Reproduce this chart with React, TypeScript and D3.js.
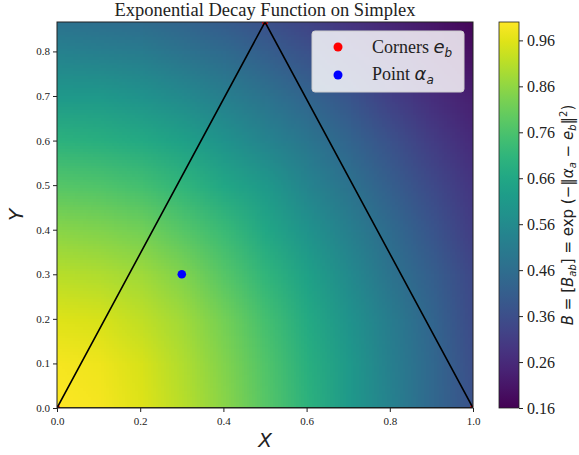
import React, { useEffect, useMemo, useRef } from "react";
import * as d3 from "d3";

// grid of B values (rows: y, cols: x)
const xGrid = [0, 0.1, 0.2, 0.3, 0.4, 0.5, 0.6, 0.7, 0.8, 0.9, 1.0];
const yGrid = [0, 0.1, 0.2, 0.3, 0.4, 0.5, 0.6, 0.7, 0.8, 0.9];
const bValues = [
  [1.0, 0.99, 0.96, 0.91, 0.85, 0.78, 0.7, 0.61, 0.53, 0.44, 0.37],
  [0.99, 0.98, 0.95, 0.9, 0.84, 0.77, 0.69, 0.61, 0.52, 0.44, 0.36],
  [0.96, 0.95, 0.92, 0.88, 0.82, 0.75, 0.67, 0.59, 0.51, 0.43, 0.35],
  [0.91, 0.9, 0.88, 0.84, 0.78, 0.71, 0.64, 0.56, 0.48, 0.41, 0.34],
  [0.85, 0.84, 0.82, 0.78, 0.73, 0.66, 0.59, 0.52, 0.45, 0.38, 0.31],
  [0.78, 0.77, 0.75, 0.71, 0.66, 0.61, 0.54, 0.48, 0.41, 0.35, 0.29],
  [0.7, 0.69, 0.67, 0.64, 0.59, 0.54, 0.49, 0.43, 0.37, 0.31, 0.26],
  [0.61, 0.61, 0.59, 0.56, 0.52, 0.48, 0.43, 0.38, 0.32, 0.27, 0.23],
  [0.53, 0.52, 0.51, 0.48, 0.45, 0.41, 0.37, 0.32, 0.28, 0.23, 0.19],
  [0.45, 0.44, 0.43, 0.41, 0.38, 0.35, 0.31, 0.27, 0.23, 0.2, 0.16],
];
const corners = [
  [0, 0],
  [1, 0],
  [0.5, 0.866],
];
const point = [0.3, 0.3];
const xTicks = [0, 0.2, 0.4, 0.6, 0.8, 1.0];
const yTicks = [0, 0.1, 0.2, 0.3, 0.4, 0.5, 0.6, 0.7, 0.8];
const cbTicks = [0.16, 0.26, 0.36, 0.46, 0.56, 0.66, 0.76, 0.86, 0.96];
const bRange = [0.16, 1.0];

const width = 579;
const height = 455;
const plot = { left: 57, right: 473, top: 22, bottom: 408 };
const cbar = { left: 499, right: 519 };
const serif = "'Liberation Serif', 'Times New Roman', serif";
const sans = "'DejaVu Sans', sans-serif";

export default function App() {
  const xAxisRef = useRef<SVGGElement>(null);
  const yAxisRef = useRef<SVGGElement>(null);
  const cbAxisRef = useRef<SVGGElement>(null);

  const x = d3.scaleLinear().domain([0, 1]).range([plot.left, plot.right]);
  const y = d3.scaleLinear().domain([0, 0.866]).range([plot.bottom, plot.top]);
  const cb = d3.scaleLinear().domain(bRange).range([plot.bottom, plot.top]);
  const color = d3.scaleSequential(d3.interpolateViridis).domain(bRange);

  const href = useMemo(() => {
    const cols = xGrid.length;
    const rows = yGrid.length;
    const canvas = document.createElement("canvas");
    canvas.width = cols;
    canvas.height = rows;
    const ctx = canvas.getContext("2d");
    if (!ctx) return "";
    const img = ctx.createImageData(cols, rows);
    for (let r = 0; r < rows; r++) {
      for (let c = 0; c < cols; c++) {
        const col = d3.rgb(color(bValues[r][c]));
        const i = ((rows - 1 - r) * cols + c) * 4;
        img.data[i] = col.r;
        img.data[i + 1] = col.g;
        img.data[i + 2] = col.b;
        img.data[i + 3] = 255;
      }
    }
    ctx.putImageData(img, 0, 0);
    return canvas.toDataURL();
  }, []);

  useEffect(() => {
    document.body.style.margin = "0";
    const xa = d3.select(xAxisRef.current);
    xa.call(
      d3.axisBottom(x).tickValues(xTicks).tickFormat(d3.format(".1f")).tickSize(4).tickPadding(5)
    );
    const ya = d3.select(yAxisRef.current);
    ya.call(
      d3.axisLeft(y).tickValues(yTicks).tickFormat(d3.format(".1f")).tickSize(4).tickPadding(3)
    );
    const ca = d3.select(cbAxisRef.current);
    ca.call(
      d3.axisRight(cb).tickValues(cbTicks).tickFormat(d3.format(".2f")).tickSize(4).tickPadding(4)
    );
    [xa, ya].forEach((a) => {
      a.select(".domain").remove();
      a.selectAll("text").style("font-family", serif).style("font-size", "11px").attr("fill", "#222");
      a.selectAll("line").attr("stroke", "#222");
    });
    ca.select(".domain").remove();
    ca.selectAll("text").style("font-family", serif).style("font-size", "16px").attr("fill", "#222");
    ca.selectAll("line").attr("stroke", "#222");
  }, []);

  const stops = d3.range(0, 1.0001, 0.05);

  return (
    <svg width={width} height={height} style={{ display: "block", background: "#fff" }}>
      <defs>
        <clipPath id="plotClip">
          <rect x={plot.left} y={plot.top} width={plot.right - plot.left} height={plot.bottom - plot.top} />
        </clipPath>
        <linearGradient id="viridisBar" x1="0" y1="1" x2="0" y2="0">
          {stops.map((t) => (
            <stop key={t} offset={t} stopColor={d3.interpolateViridis(t)} />
          ))}
        </linearGradient>
      </defs>

      <text x={(plot.left + plot.right) / 2} y={16} textAnchor="middle" fontFamily={serif} fontSize={18.5} fill="#222">
        Exponential Decay Function on Simplex
      </text>

      <g clipPath="url(#plotClip)">
        <image
          href={href}
          x={x(-0.05)}
          y={y(0.95)}
          width={x(1.05) - x(-0.05)}
          height={y(-0.05) - y(0.95)}
          preserveAspectRatio="none"
        />
        {corners.map((d, i) => (
          <circle key={i} cx={x(d[0])} cy={y(d[1])} r={3} fill="#ff0000" />
        ))}
        <path
          d={d3.line()([...corners.map((d) => [x(d[0]), y(d[1])] as [number, number]), [x(0), y(0)]])!}
          fill="none"
          stroke="#000"
          strokeWidth={1.6}
        />
        <circle cx={x(point[0])} cy={y(point[1])} r={4.3} fill="#0000ff" />
      </g>

      <rect
        x={plot.left}
        y={plot.top}
        width={plot.right - plot.left}
        height={plot.bottom - plot.top}
        fill="none"
        stroke="#222"
        strokeWidth={1}
      />
      <g ref={xAxisRef} transform={`translate(0,${plot.bottom})`} />
      <g ref={yAxisRef} transform={`translate(${plot.left},0)`} />

      {/* legend */}
      <g>
        <rect x={312} y={31} width={152} height={61} rx={3} fill="#fff" fillOpacity={0.82} stroke="#ccc" />
        <circle cx={338} cy={47} r={4.5} fill="#ff0000" />
        <circle cx={338} cy={75} r={4.5} fill="#0000ff" />
        <text x={372} y={53} fontFamily={serif} fontSize={18} fill="#222">
          Corners{" "}
          <tspan fontFamily={sans} fontStyle="italic">e</tspan>
          <tspan fontFamily={sans} fontStyle="italic" fontSize={12} dy={4}>b</tspan>
        </text>
        <text x={372} y={80} fontFamily={serif} fontSize={18} fill="#222">
          Point{" "}
          <tspan fontFamily={sans} fontStyle="italic">α</tspan>
          <tspan fontFamily={sans} fontStyle="italic" fontSize={12} dy={4}>a</tspan>
        </text>
      </g>

      <text x={(plot.left + plot.right) / 2} y={447} textAnchor="middle" fontFamily={sans} fontStyle="italic" fontSize={20} fill="#222">
        X
      </text>
      <text
        transform={`translate(23,${(plot.top + plot.bottom) / 2}) rotate(-90)`}
        textAnchor="middle"
        fontFamily={sans}
        fontStyle="italic"
        fontSize={20}
        fill="#222"
      >
        Y
      </text>

      {/* colorbar */}
      <rect x={cbar.left} y={plot.top} width={cbar.right - cbar.left} height={plot.bottom - plot.top} fill="url(#viridisBar)" stroke="#222" strokeWidth={0.8} />
      <g ref={cbAxisRef} transform={`translate(${cbar.right},0)`} />
      <text
        transform={`translate(573,${(plot.top + plot.bottom) / 2}) rotate(-90)`}
        textAnchor="middle"
        fontFamily={sans}
        fontSize={15}
        fill="#222"
      >
        <tspan fontStyle="italic">B</tspan> = [<tspan fontStyle="italic">B</tspan>
        <tspan fontStyle="italic" fontSize={10} dy={3}>ab</tspan>
        <tspan dy={-3}>] = exp (−‖</tspan>
        <tspan fontStyle="italic">α</tspan>
        <tspan fontStyle="italic" fontSize={10} dy={3}>a</tspan>
        <tspan dy={-3}> − </tspan>
        <tspan fontStyle="italic">e</tspan>
        <tspan fontStyle="italic" fontSize={10} dy={3}>b</tspan>
        <tspan dy={-3}>‖</tspan>
        <tspan fontSize={10} dy={-6}>2</tspan>
        <tspan dy={6}>)</tspan>
      </text>
    </svg>
  );
}
